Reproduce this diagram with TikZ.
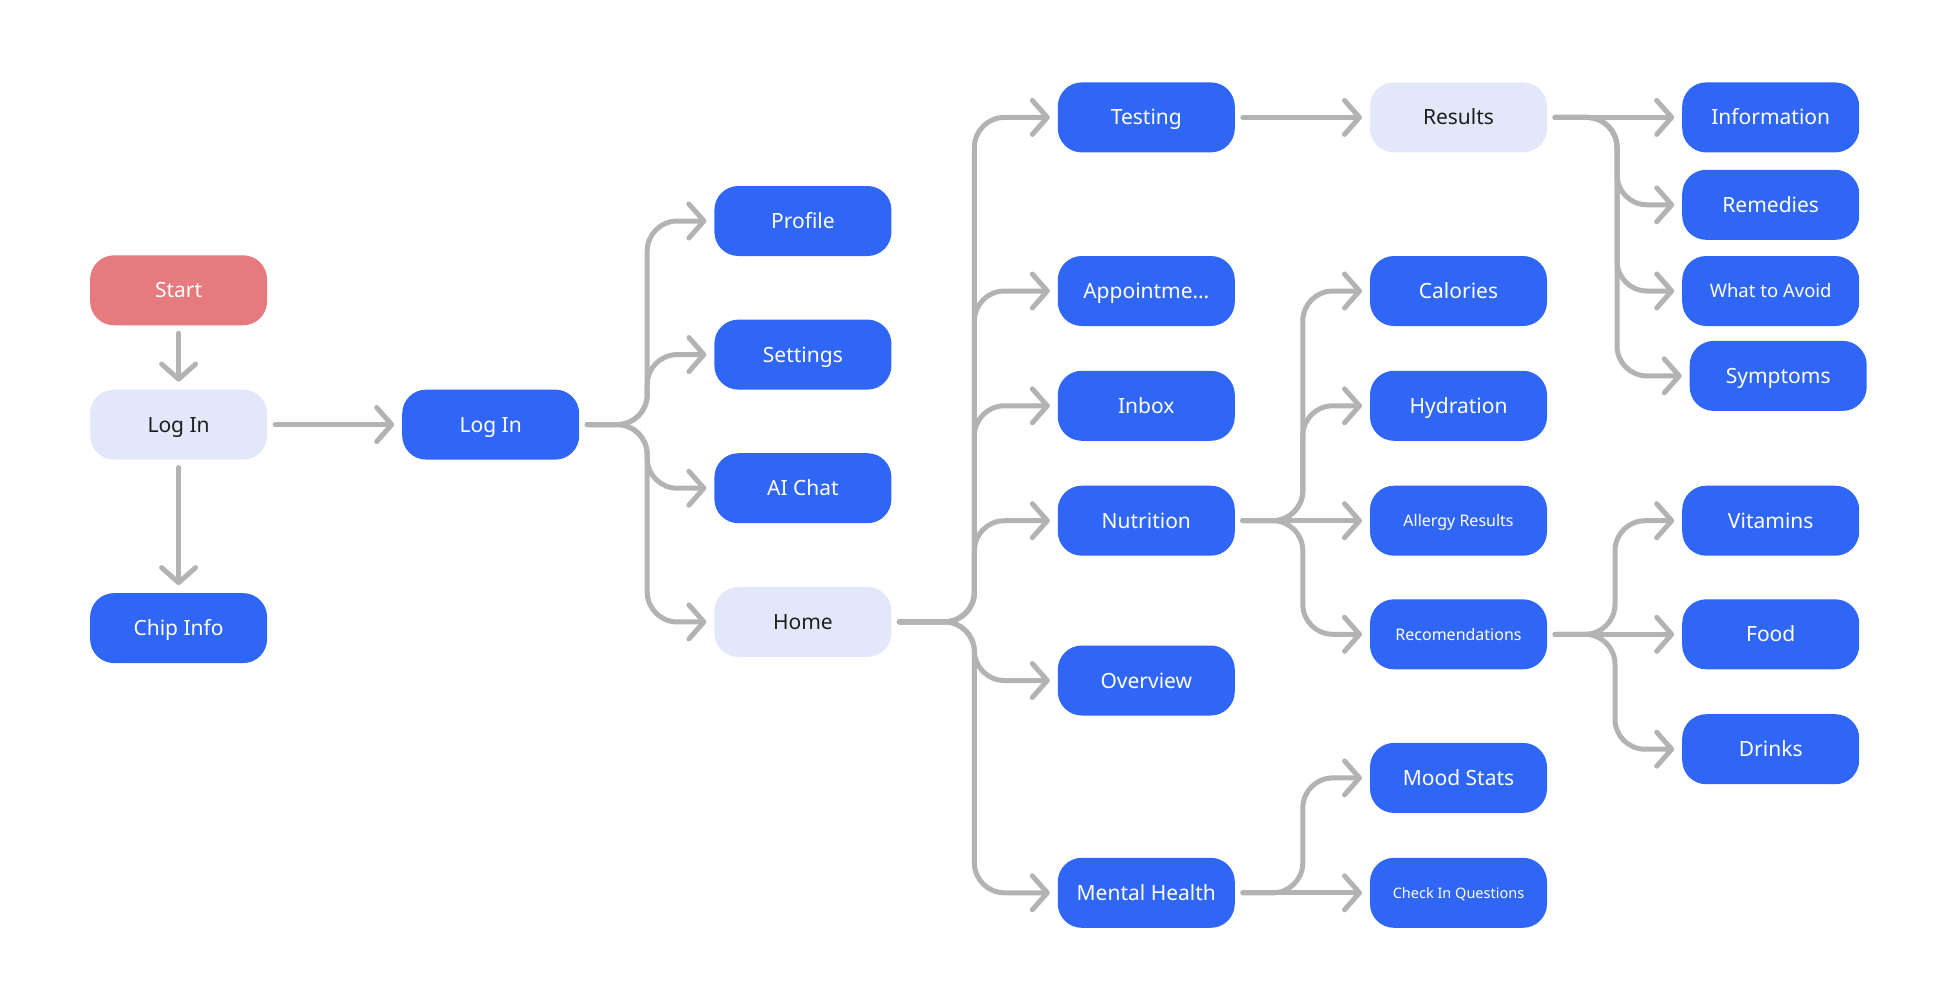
\documentclass[tikz,border=0pt]{standalone}
\usepackage{fontspec}
\setmainfont{Noto Sans}
\usetikzlibrary{arrows.meta,calc}
\definecolor{bl}{HTML}{2F66F6}
\definecolor{lt}{HTML}{E2E8FA}
\definecolor{rd}{HTML}{E57A7F}
\definecolor{gr}{HTML}{B3B3B3}
\definecolor{dk}{HTML}{1E1E1E}
\begin{document}
\begin{tikzpicture}[x=1pt,y=-1pt,
 box/.style={rectangle, rounded corners=24pt, minimum width=177pt, minimum height=70pt, inner sep=0pt, outer sep=8pt, font=\fontsize{21}{25}\selectfont, text height=15pt, text depth=0pt},
 bbox/.style={box, fill=bl, text=white},
 lbox/.style={box, fill=lt, text=dk},
 rbox/.style={box, fill=rd, text=white},
 fsmall/.style={font=\fontsize{16}{19}\selectfont, text height=11.5pt},
 ftiny/.style={font=\fontsize{14.5}{17}\selectfont, text height=10.4pt},
 fmid/.style={font=\fontsize{18.5}{22}\selectfont, text height=13.3pt},
 conn/.style={draw=gr, line width=5pt, line cap=round, line join=round, rounded corners=30pt, -{Straight Barb[length=15pt,width=34pt,round]}},
]
\path[use as bounding box] (0,0) rectangle (1958,988);
\node[rbox] (start) at (178.6,290.3) {Start};
\node[lbox] (login1) at (178.6,424.6) {Log In};
\node[bbox] (chip) at (178.6,628.1) {Chip Info};
\node[bbox] (login2) at (490.7,424.6) {Log In};
\node[bbox] (profile) at (802.9,221) {Profile};
\node[bbox] (settings) at (802.9,354.6) {Settings};
\node[bbox] (aichat) at (802.9,488.2) {AI Chat};
\node[lbox] (home) at (802.9,621.9) {Home};
\node[bbox] (testing) at (1146.3,117.4) {Testing};
\node[bbox] (appt) at (1146.3,291) {Appointme…};
\node[bbox] (inbox) at (1146.3,405.8) {Inbox};
\node[bbox] (nutr) at (1146.3,520.7) {Nutrition};
\node[bbox] (overview) at (1146.3,680.5) {Overview};
\node[bbox] (mental) at (1146.3,892.8) {Mental Health};
\node[lbox] (results) at (1458.5,117.4) {Results};
\node[bbox] (calories) at (1458.5,291) {Calories};
\node[bbox] (hydr) at (1458.5,405.8) {Hydration};
\node[bbox, fsmall] (allergy) at (1458.5,520.7) {Allergy Results};
\node[bbox, fsmall] (recom) at (1458.5,634.3) {Recomendations};
\node[bbox] (mood) at (1458.5,777.9) {Mood Stats};
\node[bbox, ftiny] (checkin) at (1458.5,892.8) {Check In Questions};
\node[bbox] (info) at (1770.7,117.4) {Information};
\node[bbox] (remedies) at (1770.7,204.8) {Remedies};
\node[bbox, fmid] (avoid) at (1770.7,291) {What to Avoid};
\node[bbox] (symptoms) at (1778.2,375.9) {Symptoms};
\node[bbox] (vitamins) at (1770.7,520.7) {Vitamins};
\node[bbox] (food) at (1770.7,634.3) {Food};
\node[bbox] (drinks) at (1770.7,749.2) {Drinks};
% simple arrows
\draw[conn] (start.south) -- (login1.north);
\draw[conn] (login1.south) -- (chip.north);
\draw[conn] (login1.east) -- (login2.west);
\draw[conn] (testing.east) -- (results.west);
% Log In branch
\foreach \t in {profile,settings,aichat,home}
  \draw[conn] (login2.east) -| ([xshift=60pt]login2.east |- \t.west) -- (\t.west);
% Home branch
\foreach \t in {testing,appt,inbox,nutr,overview,mental}
  \draw[conn] (home.east) -| ([xshift=75pt]home.east |- \t.west) -- (\t.west);
% Nutrition branch
\foreach \t in {calories,hydr,recom}
  \draw[conn] (nutr.east) -| ([xshift=60pt]nutr.east |- \t.west) -- (\t.west);
\draw[conn] (nutr.east) -- (allergy.west);
% Mental health branch
\draw[conn] (mental.east) -| ([xshift=60pt]mental.east |- mood.west) -- (mood.west);
\draw[conn] (mental.east) -- (checkin.west);
% Results branch
\draw[conn] (results.east) -- (info.west);
\foreach \t in {remedies,avoid,symptoms}
  \draw[conn] (results.east) -| ([xshift=62pt]results.east |- \t.west) -- (\t.west);
% Recomendations branch
\foreach \t in {vitamins,drinks}
  \draw[conn] (recom.east) -| ([xshift=60pt]recom.east |- \t.west) -- (\t.west);
\draw[conn] (recom.east) -- (food.west);
\end{tikzpicture}
\end{document}
